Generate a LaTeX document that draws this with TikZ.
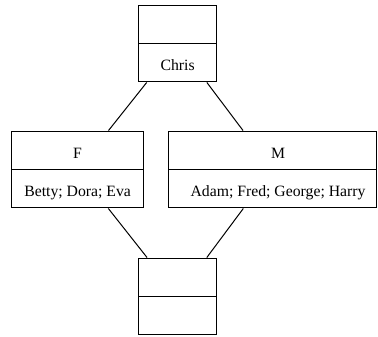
\documentclass[tikz,border=0pt]{standalone}
\usepackage{fontspec}
\setmainfont{Liberation Serif}
\usetikzlibrary{shapes.multipart}
\tikzset{concept/.style = {draw, rectangle split, rectangle split parts = 2,
                           inner xsep = 0, inner ysep = 0, line width = 0.75pt,
                           font = \fontsize{11.8}{14}\selectfont}}
\tikzset{edge/.style = {line width = 0.75pt}}
\newcommand{\cstrut}{\rule[-8.1pt]{0pt}{28.1pt}}

\begin{document}
\begin{tikzpicture}[x=0.75pt, y=-0.75pt]
    \useasboundingbox (0, 0) rectangle (378, 336);
    \node [concept, minimum width = 58.6pt] (chris) at (177.6, 43.5)
      {\cstrut\nodepart{two}\cstrut Chris};
    \node [concept, minimum width = 98.9pt] (f) at (77.6, 169.5)
      {\cstrut F\nodepart{two}\cstrut Betty; Dora; Eva};
    \node [concept, minimum width = 155.6pt] (m) at (272.3, 169.5)
      {\hspace*{8.6pt}\cstrut M\nodepart{two}\hspace*{8.6pt}\cstrut Adam; Fred; George; Harry};
    \node [concept, minimum width = 58.3pt] (bottom) at (177.8, 296.5)
      {\cstrut\nodepart{two}\cstrut};
    \draw [edge] (chris) -- (f);
    \draw [edge] (chris) -- (m);
    \draw [edge] (f) -- (bottom);
    \draw [edge] (m) -- (bottom);
  \end{tikzpicture}
\end{document}
